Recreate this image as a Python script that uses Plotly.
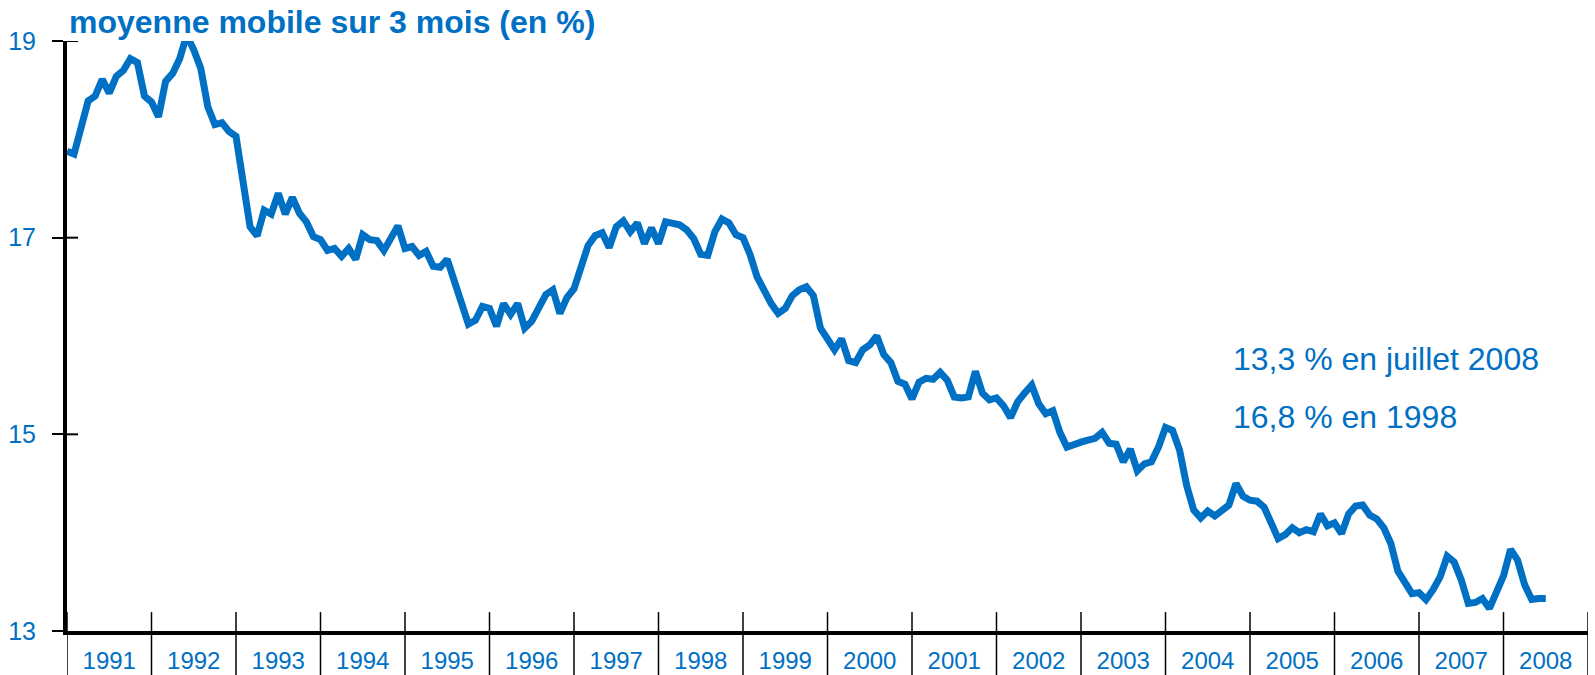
import plotly.graph_objects as go

# Monthly 3-month moving average (in %), Jan 1991 .. Jul 2008
values = [
    17.88, 17.85, 18.12, 18.39, 18.44, 18.61, 18.47, 18.64, 18.70, 18.82, 18.78, 18.44,  # 1991
    18.38, 18.23, 18.59, 18.67, 18.82, 19.06, 18.91, 18.72, 18.33, 18.15, 18.17, 18.08,  # 1992
    18.03, 17.57, 17.11, 17.02, 17.28, 17.24, 17.45, 17.24, 17.41, 17.25, 17.16, 17.01,  # 1993
    16.98, 16.87, 16.89, 16.81, 16.89, 16.78, 17.03, 16.98, 16.97, 16.87, 16.99, 17.12,  # 1994
    16.89, 16.91, 16.82, 16.86, 16.71, 16.70, 16.78, 16.57, 16.33, 16.12, 16.16, 16.30,  # 1995
    16.28, 16.10, 16.33, 16.22, 16.33, 16.08, 16.15, 16.30, 16.42, 16.47, 16.23, 16.39,  # 1996
    16.48, 16.70, 16.92, 17.02, 17.05, 16.90, 17.11, 17.17, 17.06, 17.15, 16.94, 17.10,  # 1997
    16.94, 17.16, 17.14, 17.13, 17.08, 16.99, 16.83, 16.82, 17.06, 17.19, 17.15, 17.03,  # 1998
    17.00, 16.83, 16.60, 16.46, 16.33, 16.23, 16.28, 16.41, 16.47, 16.50, 16.41, 16.08,  # 1999
    15.97, 15.86, 15.97, 15.75, 15.73, 15.86, 15.91, 16.00, 15.81, 15.73, 15.54, 15.51,  # 2000
    15.36, 15.53, 15.57, 15.56, 15.63, 15.55, 15.38, 15.37, 15.38, 15.64, 15.42, 15.35,  # 2001
    15.37, 15.29, 15.17, 15.33, 15.42, 15.50, 15.31, 15.21, 15.24, 15.02, 14.87, 14.90,  # 2002
    14.92, 14.94, 14.96, 15.02, 14.91, 14.90, 14.72, 14.85, 14.63, 14.70, 14.72, 14.87,  # 2003
    15.07, 15.04, 14.84, 14.48, 14.23, 14.15, 14.22, 14.17, 14.22, 14.28, 14.50, 14.37,  # 2004
    14.33, 14.32, 14.26, 14.09, 13.94, 13.98, 14.05, 14.00, 14.03, 14.01, 14.19, 14.07,  # 2005
    14.10, 13.99, 14.19, 14.27, 14.28, 14.18, 14.14, 14.05, 13.89, 13.61, 13.49, 13.38,  # 2006
    13.39, 13.32, 13.42, 13.55, 13.76, 13.70, 13.52, 13.28, 13.29, 13.33, 13.23, 13.38,  # 2007
    13.56, 13.83, 13.72, 13.47, 13.32, 13.33, 13.33,                                      # 2008
]
start_year = 1991
years = list(range(1991, 2009))
y_ticks = [13, 15, 17, 19]
title_text = "moyenne mobile sur 3 mois (en %)"
notes = ["13,3 % en juillet 2008", "16,8 % en 1998"]

BLUE = "#0070C4"
FONT = "Liberation Sans, Arial, sans-serif"

x = [start_year + i / 12 for i in range(len(values))]

fig = go.Figure()
fig.add_trace(go.Scatter(
    x=x, y=values, mode="lines",
    line=dict(color=BLUE, width=7),
    cliponaxis=False, showlegend=False, hoverinfo="skip",
))

shapes = []
x_end = years[-1] + 1
for yr in years + [x_end]:
    shapes.append(dict(type="line", xref="x", yref="paper", x0=yr, x1=yr,
                       y0=-0.08, y1=0.032, line=dict(color="black", width=1.5),
                       layer="above"))
# inner half of the y ticks (cross ticks)
for v in y_ticks[1:]:
    shapes.append(dict(type="line", xref="paper", yref="y", x0=0, x1=11 / 1521,
                       y0=v, y1=v, line=dict(color="black", width=2), layer="above"))

fig.update_layout(
    width=1595, height=675,
    margin=dict(l=67, r=7, t=41, b=44),
    paper_bgcolor="white", plot_bgcolor="white",
    font=dict(family=FONT, color=BLUE),
    showlegend=False,
    xaxis=dict(
        range=[years[0], x_end],
        tickmode="array",
        tickvals=[yr + 0.5 for yr in years],
        ticktext=[str(yr) for yr in years],
        ticks="", showgrid=False, zeroline=False,
        showline=True, linecolor="black", linewidth=4,
        tickfont=dict(size=24, color=BLUE, family=FONT),
        ticklabelstandoff=5, automargin=False,
    ),
    yaxis=dict(
        range=[13, 19],
        tickmode="array", tickvals=y_ticks,
        ticks="outside", ticklen=11, tickwidth=2, tickcolor="black",
        showgrid=False, zeroline=False,
        showline=True, linecolor="black", linewidth=4,
        tickfont=dict(size=25, color=BLUE, family=FONT),
        ticklabelstandoff=11, automargin=False,
    ),
    shapes=shapes,
    annotations=[
        dict(text="<b>" + title_text + "</b>", xref="paper", yref="paper",
             x=0, y=(631 - 22) / 590, xanchor="left", yanchor="middle",
             showarrow=False, font=dict(size=32, color=BLUE, family=FONT)),
        dict(text=notes[0], xref="paper", yref="paper",
             x=(1231 - 67) / 1521, y=(631 - 359) / 590, xanchor="left", yanchor="middle",
             showarrow=False, font=dict(size=32, color=BLUE, family=FONT)),
        dict(text=notes[1], xref="paper", yref="paper",
             x=(1231 - 67) / 1521, y=(631 - 417) / 590, xanchor="left", yanchor="middle",
             showarrow=False, font=dict(size=32, color=BLUE, family=FONT)),
    ],
)

fig.write_html(
    "out.html",
    config={"displayModeBar": False, "staticPlot": True},
    post_script="document.body.style.margin='0';document.body.style.overflow='hidden';",
)
